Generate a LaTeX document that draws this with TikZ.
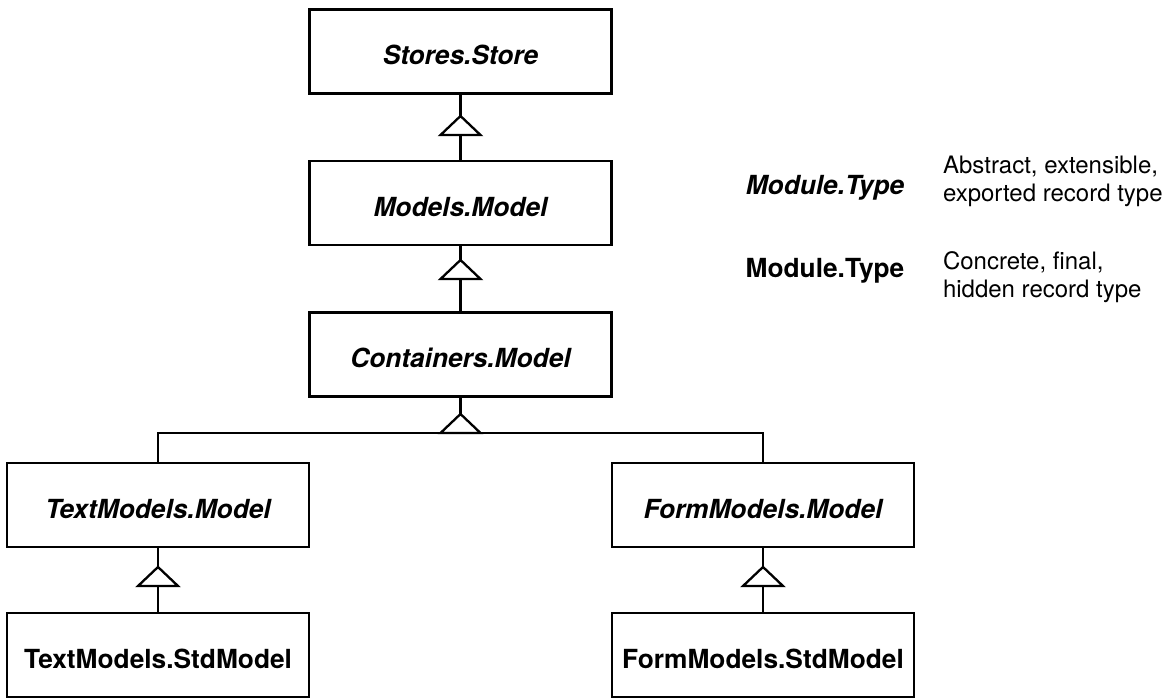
\documentclass[tikz,border=0pt]{standalone}
\usepackage{fontspec}
\setmainfont{TeX Gyre Heros}
\begin{document}
\begin{tikzpicture}[x=1pt,y=-1pt,
  every node/.style={inner sep=0pt,outer sep=0pt},
  namefont/.style={font=\fontsize{26.3}{30}\selectfont\bfseries},
  absfont/.style={font=\fontsize{26.3}{30}\selectfont\bfseries\itshape},
  descfont/.style={font=\fontsize{24}{28}\selectfont},
  cls/.style={draw,line width=2.3pt,minimum width=302pt,minimum height=84pt,
    text height=26pt,text depth=0pt,namefont},
  abstractcls/.style={cls,absfont},
  link/.style={line width=2.3pt},
  inh/.pic={\draw[line width=2.3pt,fill=white,line join=miter]
    (0,0) -- (-20,19) -- (20,19) -- cycle;}
]
\useasboundingbox (0,0) rectangle (1167,698);

% class boxes
\node[abstractcls] (store)   at (460.5,51.5)  {Stores.Store};
\node[abstractcls] (models)  at (460.5,203)   {Models.Model};
\node[abstractcls] (cont)    at (460.5,354.5) {Containers.Model};
\node[abstractcls] (textm)   at (158,505)     {TextModels.Model};
\node[abstractcls] (formm)   at (763,505)     {FormModels.Model};
\node[cls]         (textstd) at (158,655)     {TextModels.StdModel};
\node[cls]         (formstd) at (763,655)     {FormModels.StdModel};

% inheritance links
\draw[link] (store) -- (models);
\path (store.south) ++(0,22.5) pic {inh};

\draw[link] (models) -- (cont);
\path (models.south) ++(0,15) pic {inh};

\coordinate (bus) at (460.5,433);
\draw[link] (cont) -- (bus);
\draw[link] (textm.north) |- (bus) -| (formm.north);
\path (bus) ++(0,-19) pic {inh};

\draw[link] (textm) -- (textstd);
\path (textm.south) ++(0,20) pic {inh};

\draw[link] (formm) -- (formstd);
\path (formm.south) ++(0,20) pic {inh};

% legend
\node[absfont] (absname) at (825,188) {Module.Type};
\node[descfont,anchor=west,align=left] (absdesc) at (943,181)
  {Abstract, extensible,\\exported record type};
\node[namefont] (conname) at (825,271) {Module.Type};
\node[descfont,anchor=west,align=left] (condesc) at (943,277)
  {Concrete, final,\\hidden record type};
\end{tikzpicture}
\end{document}
